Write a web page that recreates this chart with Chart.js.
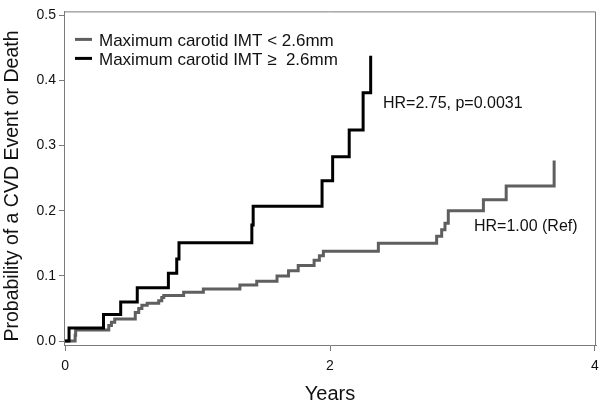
<!DOCTYPE html>
<html>
<head>
<meta charset="utf-8">
<script src="https://cdn.jsdelivr.net/npm/chart.js@4.4.0/dist/chart.umd.min.js"></script>
<style>
    html, body { margin: 0; padding: 0; background: #fff; }
    #wrap { width: 600px; height: 405px; position: relative; }
</style>
</head>
<body>
<div id="wrap"><canvas id="kmChart"></canvas></div>
<script>
// cumulative event probability (step at each time)
const seriesNames = ['Maximum carotid IMT < 2.6mm', 'Maximum carotid IMT \u2265  2.6mm'];

const lowTimes = [0, 0.076, 0.08, 0.33, 0.35, 0.375, 0.53, 0.556, 0.58, 0.62, 0.707, 0.73, 0.745,
    0.895, 1.044, 1.32, 1.447, 1.6, 1.687, 1.76, 1.88, 1.92, 1.95, 2.365, 2.805, 2.843, 2.868,
    2.893, 3.158, 3.33, 3.692];
const lowProb = [0, 0.009, 0.017, 0.024, 0.029, 0.034, 0.044, 0.050, 0.055, 0.058, 0.062, 0.067, 0.070,
    0.075, 0.080, 0.086, 0.092, 0.100, 0.108, 0.116, 0.124, 0.131, 0.138, 0.150, 0.161, 0.171, 0.181,
    0.200, 0.217, 0.238, 0.277];

const highTimes = [0, 0.03, 0.29, 0.42, 0.545, 0.78, 0.843, 0.86, 1.41, 1.42, 1.94, 2.02, 2.145, 2.25, 2.307];
const highProb = [0, 0.020, 0.041, 0.060, 0.082, 0.104, 0.126, 0.151, 0.178, 0.207, 0.246, 0.283, 0.324, 0.381, 0.438];

const xTicks = [0, 2, 4];
const yTicks = [0, 0.1, 0.2, 0.3, 0.4, 0.5];

const yTitle = 'Probability of a CVD Event or Death';
const hrNotes = ['HR=2.75, p=0.0031', 'HR=1.00 (Ref)'];

const FONT = '"Liberation Sans", Arial, sans-serif';
const AXIS_GREY = '#7a7a7a';

function toPoints(xs, ys) {
    return xs.map((t, i) => ({ x: t, y: ys[i] }));
}

// legend, hazard ratio notes, y title and the top/right frame
const extras = {
    id: 'extras',
    afterDraw(chart) {
        const { ctx, chartArea: ca, scales: { x, y } } = chart;
        ctx.save();
        ctx.strokeStyle = AXIS_GREY;
        ctx.lineWidth = 1;
        ctx.beginPath();
        ctx.moveTo(ca.left, ca.top + 0.5);
        ctx.lineTo(ca.right - 0.5, ca.top + 0.5);
        ctx.lineTo(ca.right - 0.5, ca.bottom);
        ctx.stroke();

        ctx.font = '17px ' + FONT;
        ctx.textBaseline = 'middle';
        chart.data.datasets.forEach((ds, i) => {
            const yy = ca.top + 30 + i * 19;
            ctx.strokeStyle = ds.borderColor;
            ctx.lineWidth = 3;
            ctx.beginPath();
            ctx.moveTo(ca.left + 11, yy - 2);
            ctx.lineTo(ca.left + 28, yy - 2);
            ctx.stroke();
            ctx.fillStyle = '#111';
            ctx.fillText(ds.label, ca.left + 35, yy);
        });

        ctx.font = '16px ' + FONT;
        ctx.fillStyle = '#111';
        ctx.fillText(hrNotes[0], x.getPixelForValue(2.40), y.getPixelForValue(0.365));
        ctx.fillText(hrNotes[1], x.getPixelForValue(3.087), y.getPixelForValue(0.175));

        // rotated y title, sits a little below the axis middle in the original
        ctx.font = '19.5px ' + FONT;
        ctx.textAlign = 'center';
        ctx.translate(13, 186);
        ctx.rotate(-Math.PI / 2);
        ctx.fillText(yTitle, 0, 0);
        ctx.restore();
    }
};

const ctx = document.getElementById('kmChart').getContext('2d');
const kmChart = new Chart(ctx, {
    type: 'line',
    data: {
        datasets: [
            {
                label: seriesNames[0],
                data: toPoints(lowTimes, lowProb),
                borderColor: '#5f5f5f',
                borderWidth: 3,
                stepped: true,
                pointRadius: 0,
                fill: false,
                order: 1
            },
            {
                label: seriesNames[1],
                data: toPoints(highTimes, highProb),
                borderColor: '#000000',
                borderWidth: 3,
                stepped: true,
                pointRadius: 0,
                fill: false,
                order: 0
            }
        ]
    },
    options: {
        responsive: true,
        maintainAspectRatio: false,
        animation: false,
        layout: { padding: { top: 3, right: 4, left: 0, bottom: 0 } },
        plugins: {
            legend: { display: false },
            tooltip: { enabled: false }
        },
        scales: {
            x: {
                type: 'linear',
                min: -0.008,
                max: 4.008,
                afterBuildTicks: s => { s.ticks = xTicks.map(v => ({ value: v })); },
                afterFit: s => {
                    s.height = 60;
                    s.paddingLeft = 0;
                    s.paddingRight = 0;
                },
                grid: { drawOnChartArea: false, color: AXIS_GREY, tickLength: 6 },
                border: { color: AXIS_GREY, width: 1 },
                ticks: {
                    color: '#111',
                    font: { family: FONT, size: 14 },
                    padding: 7,
                    maxRotation: 0,
                    callback: v => String(v)
                },
                title: {
                    display: true,
                    text: 'Years',
                    color: '#111',
                    font: { family: FONT, size: 20, lineHeight: 1.1 },
                    padding: 0
                }
            },
            y: {
                type: 'linear',
                min: -0.006,
                max: 0.506,
                afterBuildTicks: s => { s.ticks = yTicks.map(v => ({ value: v })); },
                afterFit: s => { s.width = 64; },
                grid: { drawOnChartArea: false, color: AXIS_GREY, tickLength: 5 },
                border: { color: AXIS_GREY, width: 1 },
                ticks: {
                    color: '#111',
                    font: { family: FONT, size: 14 },
                    padding: 3,
                    callback: v => v.toFixed(1)
                }
            }
        }
    },
    plugins: [extras]
});
</script>
</body>
</html>
